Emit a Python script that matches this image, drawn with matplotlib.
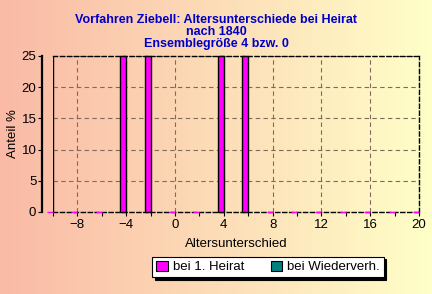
import numpy as np
import matplotlib
matplotlib.use('Agg')
import matplotlib.pyplot as plt
from matplotlib.patches import Patch

plt.rcParams.update({
    'font.family': ['Liberation Sans', 'DejaVu Sans'],
    'font.size': 9,
})

# Data: age difference bins (years) and share in %
bins = [-10, -8, -6, -4, -2, 0, 2, 4, 6, 8, 10, 12, 14, 16, 18, 20]
erste_heirat = [0, 0, 0, 25, 25, 0, 0, 25, 25, 0, 0, 0, 0, 0, 0, 0]
wiederverh = [0, 0, 0, 0, 0, 0, 0, 0, 0, 0, 0, 0, 0, 0, 0, 0]

title_lines = ['Vorfahren Ziebell: Altersunterschiede bei Heirat',
               'nach 1840',
               'Ensemblegröße 4 bzw. 0']
xticks = [-8, -4, 0, 4, 8, 12, 16, 20]
yticks = [0, 5, 10, 15, 20, 25]

MAGENTA = '#FF00FF'
TEAL = '#008080'

fig = plt.figure(figsize=(4.32, 2.94), dpi=100)

# gradient background
bg = fig.add_axes([0, 0, 1, 1], zorder=-10)
c0 = np.array([250, 186, 166]) / 255
c1 = np.array([255, 255, 200]) / 255
t = np.linspace(0, 1, 256)[None, :, None]
grad = c0 + (c1 - c0) * t
bg.imshow(grad, aspect='auto', extent=[0, 1, 0, 1])
bg.axis('off')

ax = fig.add_axes([53 / 432, 1 - 212 / 294, 366 / 432, 156 / 294])
ax.patch.set_alpha(0)

x = np.array(bins, dtype=float)
w = 0.5
edges = ['black' if v > 0 else MAGENTA for v in erste_heirat]
ax.bar(x - w / 2, erste_heirat, w, color=MAGENTA, edgecolor=edges,
       linewidth=1.0, zorder=3, clip_on=False)
ax.bar(x + w / 2, wiederverh, w, color=TEAL, linewidth=0, zorder=3)

ax.set_xlim(-10, 20)
ax.set_ylim(0, 25)
ax.set_xticks(xticks)
ax.set_xticks(np.arange(-10, 21, 2), minor=True)
ax.set_yticks(yticks)
ax.tick_params(axis='x', which='both', direction='out', length=3, width=0.8, labelsize=9.5, pad=2)
ax.tick_params(axis='y', direction='out', length=3, width=0.8, labelsize=9.5, pad=1)

ax.grid(True, which='major', color='#806a5a', linestyle=(0, (4, 3)), linewidth=0.8, zorder=1)

for s in ['top', 'right', 'bottom']:
    ax.spines[s].set_linestyle((0, (3, 2)))
    ax.spines[s].set_linewidth(1)
ax.spines['left'].set_position(('outward', 8))
ax.spines['left'].set_linewidth(1.6)
ax.axvline(-10, color='black', linewidth=1, zorder=4)

ax.set_xlabel('Altersunterschied', fontsize=9.5, labelpad=5)
ax.set_ylabel('Anteil %', fontsize=9.5, labelpad=2)

fig.text(0.5, 1 - 14 / 294, '\n'.join(title_lines), ha='center', va='top',
         fontsize=9, fontweight='bold', color='#0000C8', linespacing=1.0)

handles = [Patch(facecolor=MAGENTA, edgecolor='black', linewidth=0.8),
           Patch(facecolor=TEAL, edgecolor='black', linewidth=0.8)]
leg = fig.legend(handles, ['bei 1. Heirat', 'bei Wiederverh.'], ncol=2,
                 loc='center', bbox_to_anchor=(268 / 432, 1 - 267 / 294),
                 fontsize=9.5, frameon=True, fancybox=False,
                 shadow={'color': 'black', 'alpha': 1},
                 handlelength=0.85, handleheight=0.85, handletextpad=0.4,
                 columnspacing=2.0, borderpad=0.3, borderaxespad=0)
leg.get_frame().set_edgecolor('black')
leg.get_frame().set_linewidth(0.8)
leg.get_frame().set_facecolor('white')
leg.get_frame().set_alpha(1)

fig.savefig('out.png', dpi=100)
